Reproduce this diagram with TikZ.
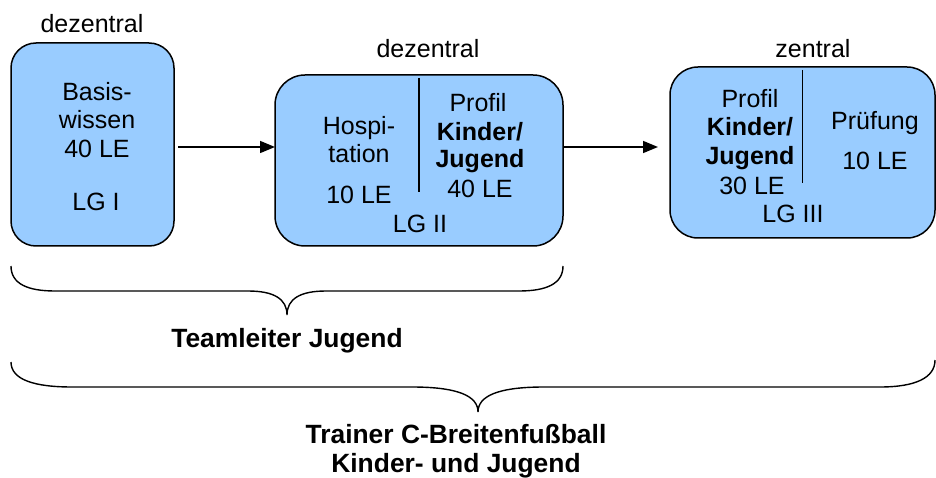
\documentclass[tikz,border=0pt]{standalone}
\usepackage{fontspec}
\setmainfont{Liberation Sans}
\usetikzlibrary{arrows.meta}
\definecolor{kursblau}{RGB}{153,204,255}
\tikzset{
	box/.style={draw, line width=1.5pt, fill=kursblau, inner sep=0pt, outer sep=0pt},
	txt/.style={anchor=base, inner sep=0pt, font=\fontsize{25}{29}\selectfont},
	titel/.style={anchor=base, inner sep=0pt, font=\fontsize{26.4}{29}\selectfont\bfseries},
	pfeil/.style={line width=1.5pt, -{Triangle[length=15pt,width=12pt]}},
	klammer/.style={line width=1.4pt},
	trenn/.style={line width=1.6pt}
}
\begin{document}
\begin{tikzpicture}[x=1pt,y=-1pt]
	\useasboundingbox (0,0) rectangle (936,478);

	\node[box, rounded corners=25pt, minimum width=163pt, minimum height=203pt] (lg1) at (92.5,144.5) {};
	\node[box, rounded corners=30pt, minimum width=288pt, minimum height=171pt] (lg2) at (419,160.5) {};
	\node[box, rounded corners=28pt, minimum width=265pt, minimum height=171pt] (lg3) at (802.5,152.5) {};

	\node[txt] (ort1) at (92,33) {dezentral};
	\node[txt] (ort2) at (428,58) {dezentral};
	\node[txt] (ort3) at (813,58) {zentral};

	\node[txt] (basis) at (97,101) {Basis-};
	\node[txt] (wissen) at (97,129) {wissen};
	\node[txt] (le1) at (97,158) {40 LE};
	\node[txt] (name1) at (96,211) {LG I};

	\draw[trenn] ([yshift=-3pt]lg2.north) -- ++(0,114);
	\node[txt] (hospi) at (359,135) {Hospi-};
	\node[txt] (tation) at (359,163) {tation};
	\node[txt] (le2a) at (359,204) {10 LE};
	\node[txt] (profil2) at (478,112) {Profil};
	\node[txt] (kinder2) at (480,141) {\bfseries Kinder/};
	\node[txt] (jugend2) at (480,168) {\bfseries Jugend};
	\node[txt] (le2b) at (480,198) {40 LE};
	\node[txt] (name2) at (420,233) {LG II};

	\draw[trenn] ([yshift=-3pt]lg3.north) -- ++(0,113);
	\node[txt] (profil3) at (750,108) {Profil};
	\node[txt] (kinder3) at (750,136) {\bfseries Kinder/};
	\node[txt] (jugend3) at (750,165) {\bfseries Jugend};
	\node[txt] (le3a) at (752,195) {30 LE};
	\node[txt] (pruef) at (875,130) {Prüfung};
	\node[txt] (le3b) at (875,170) {10 LE};
	\node[txt] (name3) at (793,223) {LG III};

	\coordinate (h) at (0,147);
	\draw[pfeil, shorten <=4pt] (lg1.east |- h) -- (lg2.west |- h);
	\draw[pfeil, shorten >=12pt] (lg2.east |- h) -- (lg3.west |- h);

	\draw[klammer] (11,266) .. controls (11,284) and (28,291) .. (55,291) -- (248,291)
		.. controls (274,291) and (287,299) .. (287,315)
		.. controls (287,299) and (300,291) .. (326,291) -- (519,291)
		.. controls (546,291) and (563,284) .. (563,266);
	\node[titel] (team) at (287,347) {Teamleiter Jugend};

	\draw[klammer] (11,362) .. controls (11,380) and (35,387) .. (72,387) -- (412,387)
		.. controls (458,387) and (478,396) .. (478,412)
		.. controls (478,396) and (498,387) .. (544,387) -- (880,387)
		.. controls (915,387) and (935,378) .. (935,360);
	\node[titel] (trainer) at (456,443) {Trainer C-Breitenfußball};
	\node[titel] (kiju) at (456,472) {Kinder- und Jugend};
\end{tikzpicture}
\end{document}
